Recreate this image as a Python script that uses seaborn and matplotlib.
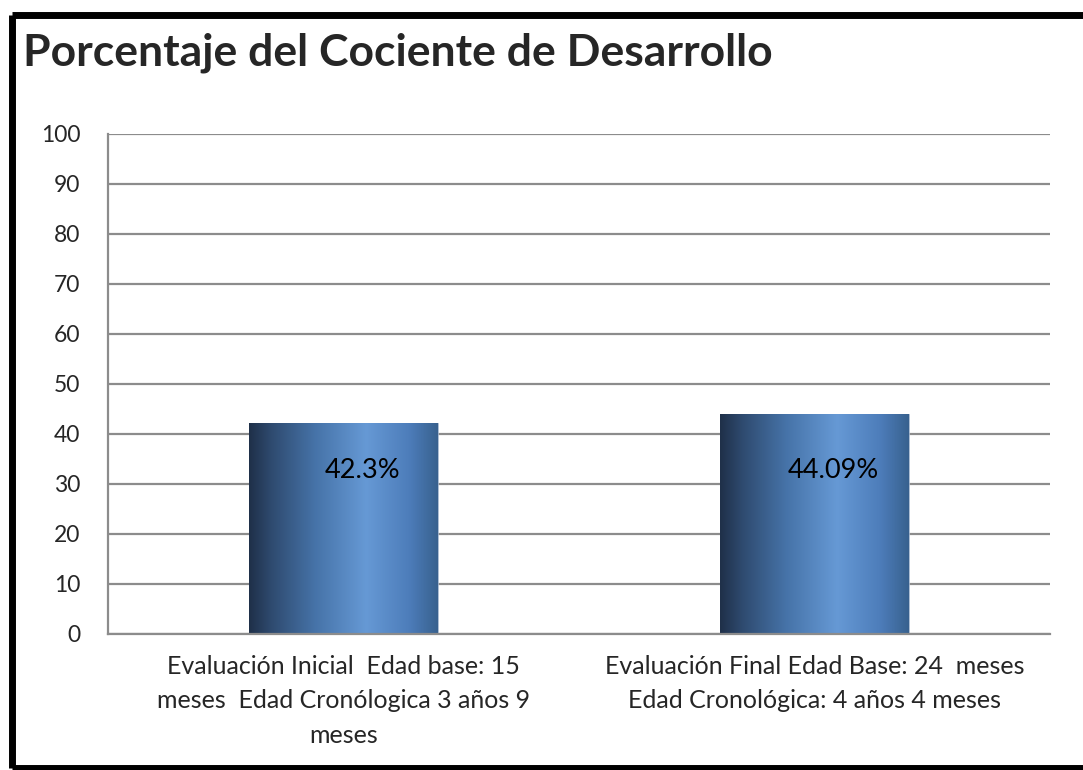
import numpy as np
import pandas as pd
import seaborn as sns
import matplotlib.pyplot as plt
from matplotlib.colors import LinearSegmentedColormap
from matplotlib.lines import Line2D

categories = [
    "Evaluación Inicial  Edad base: 15\nmeses  Edad Cronólogica 3 años 9\nmeses",
    "Evaluación Final Edad Base: 24  meses\nEdad Cronológica: 4 años 4 meses",
]
values = [42.3, 44.09]
value_labels = ["42.3%", "44.09%"]
y_ticks = [0, 10, 20, 30, 40, 50, 60, 70, 80, 90, 100]

sns.set_style("white")
plt.rcParams["font.family"] = ["Lato", "DejaVu Sans"]

df = pd.DataFrame({"cat": categories, "val": values})

fig = plt.figure(figsize=(10.83, 7.7), dpi=100)
fig.patch.set_linewidth(0)
ax = fig.add_axes([108 / 1083, 136 / 770, 942 / 1083, 500 / 770])

sns.barplot(data=df, x="cat", y="val", width=0.4, ax=ax, color="#4a7ab5")

# horizontal gradient inside each bar, like the excel style
grad_cmap = LinearSegmentedColormap.from_list(
    "bar_grad",
    [(0.0, "#1f3049"), (0.12, "#2f4b70"), (0.35, "#4673a8"),
     (0.62, "#6699d5"), (0.85, "#4d7dba"), (1.0, "#38618f")],
)
grad = np.linspace(0, 1, 256).reshape(1, -1)
for p in ax.patches:
    x0, y0 = p.get_x(), p.get_y()
    w, h = p.get_width(), p.get_height()
    p.set_facecolor("none")
    p.set_edgecolor("#9fb3cc")
    p.set_linewidth(0.6)
    im = ax.imshow(grad, cmap=grad_cmap, aspect="auto",
                   extent=[x0, x0 + w, y0, y0 + h], zorder=2)
    im.set_clip_path(p)

for p, lab in zip(ax.patches, value_labels):
    ax.text(p.get_x() + p.get_width() / 2 + 0.04, 32.6, lab,
            ha="center", va="center", fontsize=19.5, color="black", zorder=4)

ax.set_xlim(-0.5, 1.5)
ax.set_ylim(0, 100)
ax.set_yticks(y_ticks)
ax.set_yticklabels([str(t) for t in y_ticks], fontsize=16.5)
ax.tick_params(axis="y", length=0, pad=20)
ax.tick_params(axis="x", length=0, pad=15, labelsize=18)
for lbl in ax.get_xticklabels():
    lbl.set_linespacing(1.6)
ax.set_xlabel("")
ax.set_ylabel("")

ax.grid(axis="y", color="#8c8c8c", linewidth=1.6)
ax.set_axisbelow(True)
for side in ["top", "right"]:
    ax.spines[side].set_visible(False)
for side in ["left", "bottom"]:
    ax.spines[side].set_color("#8c8c8c")
    ax.spines[side].set_linewidth(1.6)

fig.text(23 / 1083, 1 - 53 / 770, "Porcentaje del Cociente de Desarrollo",
         fontsize=32, fontweight="bold", ha="left", va="center")

# outer black frame: left, top, bottom only (right side is cut off)
fx = 11.5 / 1083
fy_top = 1 - 14.5 / 770
fy_bot = 1 - 768 / 770
for xs, ys in [([fx, fx], [fy_bot, fy_top]),
               ([fx, 1.0], [fy_top, fy_top]),
               ([fx, 1.0], [fy_bot, fy_bot])]:
    fig.add_artist(Line2D(xs, ys, transform=fig.transFigure, color="black",
                          linewidth=5, solid_capstyle="butt"))

fig.savefig("out.png", dpi=100)
